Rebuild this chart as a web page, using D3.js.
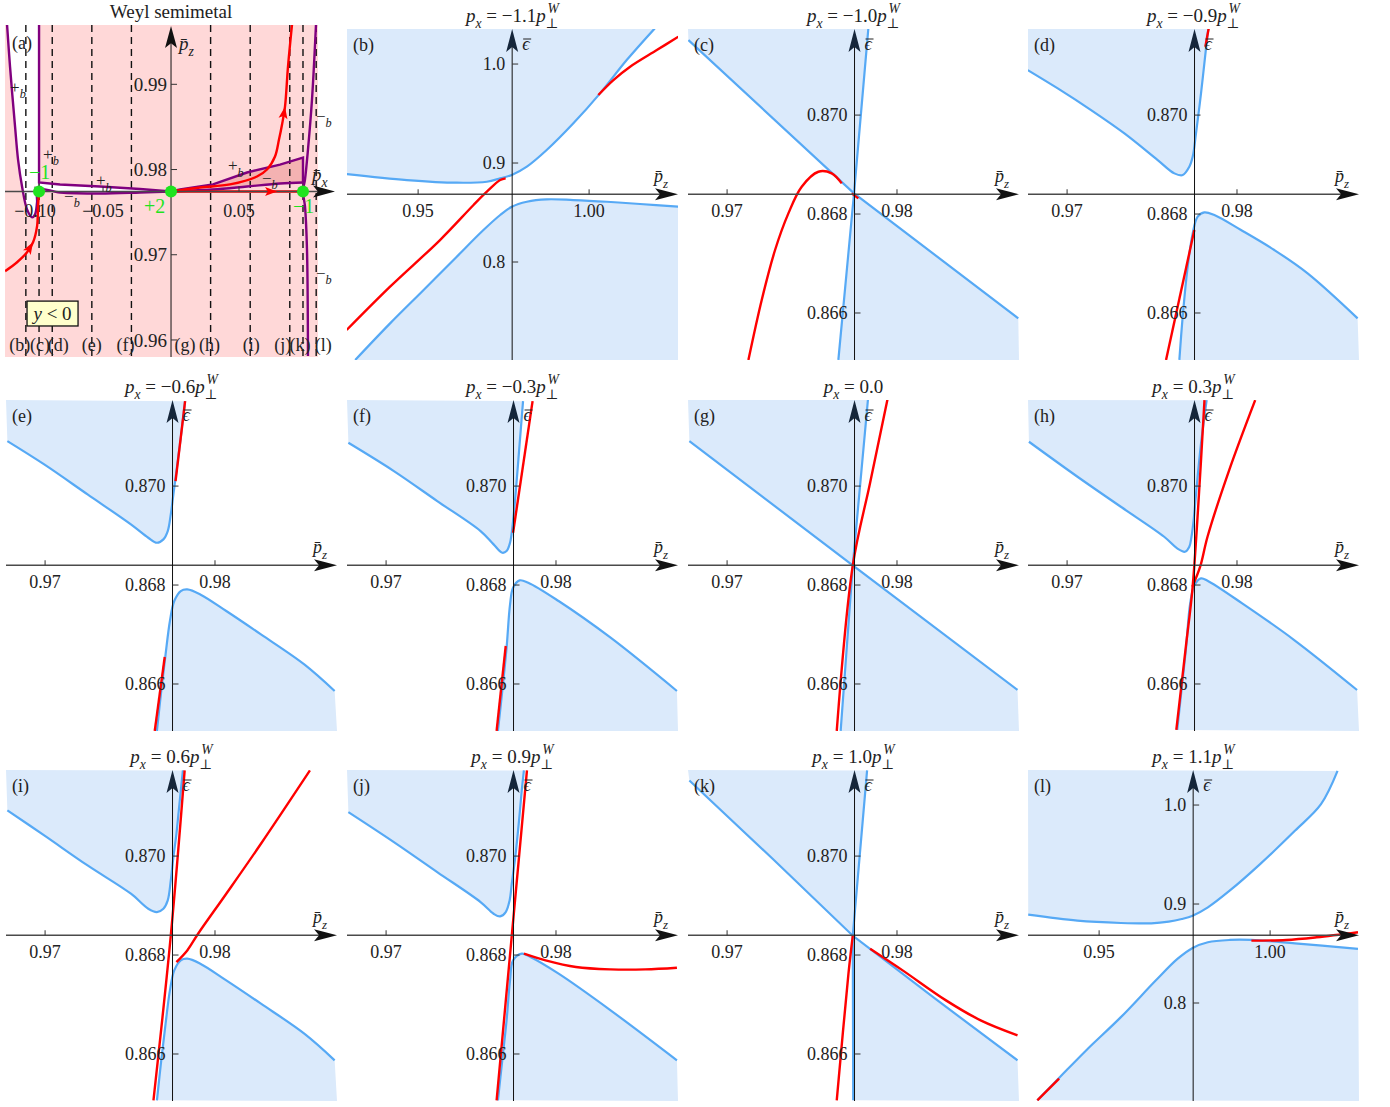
<!DOCTYPE html>
<html>
<head>
<meta charset="utf-8">
<script src="https://cdnjs.cloudflare.com/ajax/libs/d3/7.8.5/d3.min.js"></script>
<style>
  body { margin: 0; background: #fff; }
  text { font-family: "Liberation Serif", "DejaVu Serif", serif; fill: #222; }
</style>
</head>
<body>
<script>
// ---------- data ----------
const pxFactors = [-1.1, -1.0, -0.9, -0.6, -0.3, 0.0, 0.3, 0.6, 0.9, 1.0, 1.1];
const panelIds = ["b", "c", "d", "e", "f", "g", "h", "i", "j", "k", "l"];
const pW = 0.09706;            // p_perp^W measured on the p_x axis of (a)
const pz0 = 0.9775, e0 = 0.8684; // where the axes cross in (b)-(l)

// (b)-(l): [p_z, eps] points of the gap edges and of the red surface branch
const upperB = [[0.9291,0.8889],[0.9467,0.8828],[0.9613,0.8801],[0.9701,0.8811],[0.9740,0.8845],[0.9774,0.8879],[0.9818,0.8963],[0.9876,0.9131],[0.9954,0.9401],[1.0032,0.9704],[1.0110,1.0040],[1.0192,1.0360]];
const lowerB = [[0.9316,0.7010],[0.9418,0.7380],[0.9516,0.7717],[0.9613,0.8054],[0.9691,0.8323],[0.9740,0.8475],[0.9774,0.8559],[0.9818,0.8609],[0.9876,0.8633],[0.9954,0.8626],[1.0052,0.8609],[1.0149,0.8586],[1.0261,0.8559]];
const redB = [[[0.9291,0.7313],[0.9418,0.7751],[0.9564,0.8222],[0.9662,0.8576],[0.9701,0.8710],[0.9740,0.8828],[0.9756,0.8845]],
              [[1.0027,0.9687],[1.0071,0.9838],[1.0120,0.9973],[1.0198,1.0141],[1.0261,1.0276]]];

const upperC = [[0.967725,0.871515],[0.977471,0.868418],[0.978314,0.871751]];
const lowerC = [[0.976549,0.865051],[0.977471,0.868418],[0.987137,0.865892]];
const redC = [[[0.971255,0.865050],[0.972039,0.866263],[0.972824,0.867273],[0.973608,0.868013],[0.974392,0.868552],[0.975373,0.868855],[0.976157,0.868822],[0.976745,0.868620]],
              [[0.977333,0.868418],[0.977725,0.868316]]];

const upperD = [[0.967686,0.870909],[0.969451,0.870539],[0.971412,0.870101],[0.973373,0.869630],[0.975333,0.869091],[0.976314,0.868822],[0.976804,0.868788],[0.977196,0.868956],[0.977392,0.869158],[0.977588,0.869630],[0.977882,0.870438],[0.978176,0.871347],[0.978314,0.871751]];
const lowerD = [[0.976608,0.865051],[0.976804,0.865926],[0.977098,0.866936],[0.977392,0.867609],[0.977686,0.867946],[0.978078,0.868034],[0.978667,0.867980],[0.980235,0.867677],[0.982196,0.867273],[0.984157,0.866801],[0.987098,0.865892]];
const redD = [[[0.978137,0.871380],[0.978333,0.871751]],
              [[0.975824,0.865051],[0.977490,0.867677]]];

const upperE = [[0.967781,0.870909],[0.969949,0.870438],[0.972500,0.869832],[0.975051,0.869226],[0.976071,0.868956],[0.976582,0.868855],[0.976964,0.868923],[0.977219,0.869091],[0.977398,0.869428],[0.977551,0.869832],[0.977730,0.870303],[0.977985,0.870976],[0.978240,0.871717]];
const lowerE = [[0.976582,0.865051],[0.976837,0.865859],[0.977092,0.866599],[0.977347,0.867273],[0.977602,0.867677],[0.977985,0.867879],[0.978367,0.867912],[0.979133,0.867811],[0.980663,0.867475],[0.982704,0.867003],[0.985255,0.866397],[0.987041,0.865859]];
const redE = [[[0.977679,0.870101],[0.978240,0.871717]],
              [[0.976454,0.865051],[0.977041,0.866545]]];

const upperF = [[0.967781,0.870875],[0.970459,0.870303],[0.973010,0.869697],[0.975561,0.869091],[0.976327,0.868822],[0.976837,0.868653],[0.977092,0.868687],[0.977296,0.868855],[0.977474,0.869293],[0.977653,0.869966],[0.977857,0.870842],[0.978061,0.871717]];
const lowerF = [[0.976582,0.865051],[0.976837,0.865859],[0.977092,0.866734],[0.977296,0.867609],[0.977474,0.867946],[0.977857,0.868094],[0.978367,0.868047],[0.980153,0.867677],[0.983214,0.866936],[0.987117,0.865859]];
const redF = [[[0.977474,0.869057],[0.978622,0.871717]],
              [[0.976505,0.865051],[0.977041,0.866768]]];

const upperG = [[0.967781,0.870909],[0.977398,0.868397],[0.978291,0.871751]];
const lowerG = [[0.976684,0.865051],[0.977398,0.868397],[0.987092,0.865879]];
const redG = [[[0.976454,0.865051],[0.977398,0.868397],[0.978418,0.870067],[0.979439,0.871751]]];

const upperH = [[0.967755,0.870896],[0.970612,0.870189],[0.973163,0.869582],[0.975714,0.868976],[0.976480,0.868741],[0.976939,0.868673],[0.977194,0.868774],[0.977321,0.868976],[0.977449,0.869313],[0.977628,0.869987],[0.977883,0.870862],[0.978214,0.871737]];
const lowerH = [[0.976480,0.865071],[0.976735,0.865879],[0.976990,0.866687],[0.977245,0.867630],[0.977500,0.868000],[0.977883,0.868135],[0.978265,0.868088],[0.980306,0.867630],[0.983367,0.866889],[0.987066,0.865879]];
const redH = [[[0.976429,0.865071],[0.976990,0.866754],[0.977372,0.867899],[0.977704,0.869515],[0.978087,0.871737]],
              [[0.977372,0.867966],[0.977832,0.868370],[0.978265,0.868976],[0.979541,0.870323],[0.981071,0.871737]]];

const upperI = [[0.967781,0.870923],[0.969949,0.870418],[0.972500,0.869811],[0.975051,0.869239],[0.976071,0.868936],[0.976582,0.868869],[0.976964,0.868936],[0.977219,0.869104],[0.977398,0.869508],[0.977551,0.869980],[0.977730,0.870451],[0.977908,0.871057],[0.978112,0.871731]];
const lowerI = [[0.976582,0.865064],[0.976837,0.865872],[0.977092,0.866613],[0.977347,0.867286],[0.977602,0.867690],[0.977985,0.867892],[0.978367,0.867926],[0.979133,0.867825],[0.980663,0.867488],[0.982704,0.867017],[0.985255,0.866411],[0.987041,0.865872]];
const redI = [[[0.976378,0.865064],[0.977398,0.868391],[0.978214,0.871731]],
              [[0.977730,0.867859],[0.978367,0.868094],[0.979005,0.868431],[0.980663,0.869239],[0.982704,0.870249],[0.985587,0.871731]]];

const upperJ = [[0.967781,0.870889],[0.970459,0.870283],[0.973010,0.869677],[0.975561,0.869071],[0.976327,0.868835],[0.976709,0.868781],[0.977041,0.868869],[0.977270,0.869104],[0.977398,0.869441],[0.977602,0.869980],[0.977806,0.870653],[0.977985,0.871327],[0.978112,0.871731]];
const lowerJ = [[0.976582,0.865064],[0.976837,0.865872],[0.977092,0.866680],[0.977296,0.867488],[0.977474,0.867892],[0.977985,0.868027],[0.978495,0.867960],[0.980153,0.867623],[0.983214,0.866882],[0.987117,0.865872]];
const redJ = [[[0.976505,0.865064],[0.977398,0.868391],[0.978291,0.871731]],
              [[0.978112,0.868027],[0.979388,0.867892],[0.981173,0.867758],[0.983214,0.867710],[0.985255,0.867710],[0.987117,0.867744]]];

const upperK = [[0.967781,0.871529],[0.972679,0.869946],[0.977398,0.868391],[0.978240,0.871731]];
const lowerK = [[0.977423,0.865064],[0.977398,0.868391],[0.982245,0.867118],[0.987092,0.865872]];
const redK = [[[0.976454,0.865064],[0.977143,0.867623],[0.977398,0.868391]],
              [[0.978418,0.868128],[0.980332,0.867690],[0.982883,0.867084],[0.984923,0.866680],[0.987092,0.866377]]];

const upperL = [[0.929262,0.889244],[0.943639,0.883193],[0.956361,0.880840],[0.965267,0.880504],[0.970356,0.882185],[0.974173,0.884874],[0.977354,0.888235],[0.981807,0.896639],[0.988168,0.913445],[0.997074,0.940336],[1.007252,0.973950],[1.014885,1.000840],[1.019720,1.034454]];
const lowerL = [[0.931934,0.701681],[0.938550,0.725210],[0.946183,0.752101],[0.956361,0.785714],[0.966539,0.822689],[0.972901,0.844538],[0.977354,0.855630],[0.981807,0.861345],[0.988168,0.863697],[0.994529,0.863697],[1.007252,0.860336],[1.025700,0.854622]];
const redL = [[[0.931934,0.701681],[0.938295,0.723529]],
              [[0.994529,0.863025],[1.004707,0.863697],[1.013613,0.866387],[1.025700,0.871429]]];

const upperAll = [upperB, upperC, upperD, upperE, upperF, upperG, upperH, upperI, upperJ, upperK, upperL];
const lowerAll = [lowerB, lowerC, lowerD, lowerE, lowerF, lowerG, lowerH, lowerI, lowerJ, lowerK, lowerL];
const redAll   = [redB, redC, redD, redE, redF, redG, redH, redI, redJ, redK, redL];
const sharpIds = ["c", "g", "k"];
const wideIds  = ["b", "l"];

const narrowX = [0.9677, 0.98718], narrowY = [0.86505, 0.87174];
const wideX = [0.9292, 1.026], wideY = [0.7010, 1.0354];
const narrowXTicks = [0.97, 0.98], narrowYTicks = [0.866, 0.868, 0.870];
const wideXTicks = [0.95, 1.00], wideYTicks = [0.8, 0.9, 1.0];

// (a): [p_x, p_z] points
const aXDomain = [-0.1221, 0.1081], aYDomain = [0.958, 0.99696];
const aXTicks = [-0.1, -0.05, 0.05], aYTicks = [0.96, 0.97, 0.98, 0.99];
const aLower = [[-0.12058,0.99696],[-0.11839,0.99205],[-0.11470,0.98503],[-0.11250,0.98117],[-0.10956,0.97801],[-0.10589,0.97532],[-0.10220,0.97439],[-0.09999,0.97474],[-0.09853,0.97614],[-0.09780,0.97766],[-0.08162,0.97731],[-0.05220,0.97719],[-0.02280,0.97731],[0,0.97743],[0.03089,0.97766],[0.05588,0.97801],[0.08014,0.97836],[0.09706,0.97848]];
const aUpper = [[-0.09706,0.99696],[-0.09706,0.97848],[-0.08162,0.97825],[-0.05220,0.97801],[-0.02280,0.97772],[0,0.97743],[0.00662,0.97766],[0.03089,0.97825],[0.05588,0.97965],[0.08014,0.98058],[0.09706,0.98140],[0.09706,0.97848]];
const aRight = [[0.10661,0.99696],[0.10368,0.98819],[0.10073,0.98234],[0.09853,0.97883],[0.09706,0.97743],[0.09853,0.97567],[0.09999,0.97064],[0.10073,0.95813]];
const aRedIn = [[-0.12206,0.96807],[-0.11324,0.96912],[-0.10589,0.97029],[-0.10147,0.97146],[-0.09853,0.97333],[-0.09780,0.97567],[-0.09706,0.97731]];
const aRedUp = [[0,0.97743],[0.02132,0.97789],[0.04339,0.97825],[0.06324,0.97918],[0.07059,0.98000],[0.07647,0.98152],[0.07941,0.98351],[0.08162,0.98526],[0.08383,0.98737],[0.08602,0.99205],[0.08897,0.99696]];
const aRedFlat = [[0,0.97743],[0.09706,0.97743]];
const aArrows = [[aRedIn[2], aRedIn[3]], [aRedUp[7], aRedUp[8]], [[0.0643,0.97743],[0.0780,0.97743]]];
const weylPts = [[-0.09706,0.97743],[0,0.97743],[0.09706,0.97743]];
const chargeLabels = [["−1",-0.10441,0.97883],["+2",-0.01985,0.97485],["−1",0.08971,0.97485]];
const signLabels = [["+",-0.11839,0.98901],["+",-0.09411,0.98117],["+",-0.05515,0.97801],["−",-0.07868,0.97620],
                    ["+",0.04191,0.97977],["−",0.06691,0.97836],["−",0.10661,0.98561],["−",0.10661,0.96713]];
const cutLabelShift = [-6, 1, 6, 0, -6, 14, -1, 1, -7, -3, 7];
const boxCorners = [[-0.10589,0.96456],[-0.06838,0.96164]];

// ---------- layout ----------
const cols = [6, 347, 688, 1028], rows = [29, 400, 770], PW = 331, PH = 331;
const C = { fill: "#dbeafb", blue: "#56a9f5", red: "#ff0000", purple: "#80007f", pink: "#ffd8d8",
            pinkDark: "#f4b2b2", green: "#1fe31f", axisY: "#15263a" };

const svg = d3.select("body").append("svg").attr("width", 1390).attr("height", 1107);

function mathText(parent, x, y, parts, size, anchor) {
  const t = parent.append("text").attr("x", x).attr("y", y)
    .attr("font-size", size).attr("text-anchor", anchor || "start");
  let cur = 0;
  parts.forEach(p => {
    const shift = p.sub ? 0.3 * size : p.sup ? -0.45 * size : 0;
    const ts = t.append("tspan").attr("dy", shift - cur).text(p.t);
    cur = shift;
    if (p.sub || p.sup) ts.attr("font-size", size * 0.72);
    if (p.i) ts.attr("font-style", "italic");
    if (p.dx) ts.attr("dx", p.dx);
  });
  return t;
}

function arrowHead(parent, x, y, angle, len, half, color) {
  parent.append("path")
    .attr("d", `M0,0L${-len},${-half}L${-len * 0.78},0L${-len},${half}Z`)
    .attr("transform", `translate(${x},${y}) rotate(${angle})`)
    .attr("fill", color);
}

function epsBar(parent, x, y, size) {
  parent.append("text").attr("x", x).attr("y", y).attr("font-size", size)
    .attr("font-style", "italic").text("\u03f5");
  parent.append("line").attr("x1", x + 1).attr("x2", x + 9).attr("y1", y - 11).attr("y2", y - 11)
    .attr("stroke", "#222").attr("stroke-width", 1);
}

const pzLabel = [{ t: "p\u0304", i: true }, { t: "z", i: true, sub: true }];

// ---------- panels (b)-(l) ----------
panelIds.forEach((id, k) => {
  const col = (k + 1) % 4, row = Math.floor((k + 1) / 4);
  const wide = wideIds.includes(id);
  const g = svg.append("g").attr("transform", `translate(${cols[col]},${rows[row]})`);
  const x = d3.scaleLinear().domain(wide ? wideX : narrowX).range([0, PW]);
  const y = d3.scaleLinear().domain(wide ? wideY : narrowY).range([PH, 0]);

  g.append("clipPath").attr("id", "clip-" + id).append("rect").attr("width", PW).attr("height", PH);
  const plot = g.append("g").attr("clip-path", `url(#clip-${id})`);
  const edge = d3.line().x(d => x(d[0])).y(d => y(d[1]))
    .curve(sharpIds.includes(id) ? d3.curveLinear : d3.curveCatmullRom.alpha(0.5));
  const smooth = d3.line().x(d => x(d[0])).y(d => y(d[1])).curve(d3.curveCatmullRom.alpha(0.5));

  const xd = x.domain(), yd = y.domain();
  plot.append("path").attr("d", edge(upperAll[k]) + `L${x(xd[0])},${y(yd[1])}Z`).attr("fill", C.fill);
  plot.append("path").attr("d", edge(lowerAll[k]) + `L${x(xd[1])},${y(yd[0])}Z`).attr("fill", C.fill);

  // axes
  const ax = x(pz0), ay = y(e0);
  g.append("line").attr("x1", 0).attr("x2", PW - 12).attr("y1", ay).attr("y2", ay)
    .attr("stroke", "#4a4a4a").attr("stroke-width", 1.6);
  arrowHead(g, PW, ay, 0, 23, 6, "#111");
  g.append("line").attr("x1", ax).attr("x2", ax).attr("y1", PH).attr("y2", 12)
    .attr("stroke", "#111").attr("stroke-width", 1);
  arrowHead(g, ax, 0, -90, 23, 6, C.axisY);

  const fx = d3.format(".2f"), fy = d3.format(wide ? ".1f" : ".3f");
  (wide ? wideXTicks : narrowXTicks).forEach(t => {
    g.append("line").attr("x1", x(t)).attr("x2", x(t)).attr("y1", ay).attr("y2", ay - 5)
      .attr("stroke", "#333").attr("stroke-width", 1);
    g.append("text").attr("x", x(t)).attr("y", ay + 23).attr("text-anchor", "middle")
      .attr("font-size", 18).text(fx(t));
  });
  (wide ? wideYTicks : narrowYTicks).forEach(t => {
    g.append("line").attr("x1", ax).attr("x2", ax + 6).attr("y1", y(t)).attr("y2", y(t))
      .attr("stroke", "#333").attr("stroke-width", 1);
    g.append("text").attr("x", ax - 7).attr("y", y(t)).attr("dy", "0.35em").attr("text-anchor", "end")
      .attr("font-size", 18).text(fy(t));
  });

  // curves
  [upperAll[k], lowerAll[k]].forEach(c => {
    plot.append("path").attr("d", edge(c)).attr("fill", "none")
      .attr("stroke", C.blue).attr("stroke-width", 2.2);
  });
  redAll[k].forEach(c => {
    plot.append("path").attr("d", smooth(c)).attr("fill", "none")
      .attr("stroke", C.red).attr("stroke-width", 2.4);
  });

  // labels
  mathText(g, PW - 24, ay - 12, pzLabel, 18);
  epsBar(g, ax + 10, 21, 18);
  g.append("text").attr("x", 6).attr("y", 22).attr("font-size", 18).text(`(${id})`);
  const v = pxFactors[k];
  const title = v === 0
    ? [{ t: "p", i: true }, { t: "x", i: true, sub: true }, { t: " = 0.0" }]
    : [{ t: "p", i: true }, { t: "x", i: true, sub: true }, { t: " = " + d3.format(".1f")(v) },
       { t: "p", i: true }, { t: "⊥", sub: true }, { t: "W", i: true, sup: true, dx: -11 }];
  mathText(g, PW / 2, -7, title, 19, "middle");
});

// ---------- panel (a) ----------
(function drawWeyl() {
  const g = svg.append("g");
  const x = d3.scaleLinear().domain(aXDomain).range([5, 318]);
  const y = d3.scaleLinear().domain(aYDomain).range([357, 25]);
  const [x0, x1] = x.range(), [y0, y1] = y.range();

  g.append("clipPath").attr("id", "clip-a").append("rect")
    .attr("x", x0).attr("y", y1).attr("width", x1 - x0).attr("height", y0 - y1);
  const plot = g.append("g").attr("clip-path", "url(#clip-a)");
  const smooth = d3.line().x(d => x(d[0])).y(d => y(d[1])).curve(d3.curveCatmullRom.alpha(0.5));
  const straight = d3.line().x(d => x(d[0])).y(d => y(d[1]));

  plot.append("rect").attr("x", x0).attr("y", y1).attr("width", x1 - x0).attr("height", y0 - y1)
    .attr("fill", C.pink);

  const iO = aLower.findIndex(d => d[0] === 0), jO = aUpper.findIndex(d => d[0] === 0);
  const gap = smooth(aLower.slice(0, iO + 1)) +
    aUpper.slice(0, jO + 1).reverse().map(d => `L${x(d[0])},${y(d[1])}`).join("") + "Z";
  plot.append("path").attr("d", gap).attr("fill", "#fff");
  plot.append("path").attr("d", straight(aUpper.slice(jO).concat(aLower.slice(iO).reverse())) + "Z")
    .attr("fill", C.pinkDark);

  pxFactors.forEach(f => {
    if (f === 0) return;
    plot.append("line").attr("x1", x(f * pW)).attr("x2", x(f * pW)).attr("y1", y1).attr("y2", y0)
      .attr("stroke", "#111").attr("stroke-width", 1.4).attr("stroke-dasharray", "7,5");
  });

  // axes
  const ax = x(0), ay = y(weylPts[1][1]);
  g.append("line").attr("x1", x0).attr("x2", 322).attr("y1", ay).attr("y2", ay)
    .attr("stroke", "#4a4a4a").attr("stroke-width", 1.6);
  arrowHead(g, 335, ay, 0, 22, 6, "#111");
  g.append("line").attr("x1", ax).attr("x2", ax).attr("y1", y0).attr("y2", 38)
    .attr("stroke", "#111").attr("stroke-width", 1);
  arrowHead(g, ax, 26, -90, 22, 6, "#111");

  const fx = d3.format(".2f");
  aXTicks.forEach(t => {
    g.append("line").attr("x1", x(t)).attr("x2", x(t)).attr("y1", ay).attr("y2", ay - 5)
      .attr("stroke", "#333");
    g.append("text").attr("x", x(t)).attr("y", ay + 26)
      .attr("text-anchor", "middle").attr("font-size", 18).text(fx(t));
  });
  aYTicks.forEach(t => {
    g.append("line").attr("x1", ax).attr("x2", ax + 6).attr("y1", y(t)).attr("y2", y(t)).attr("stroke", "#333");
    g.append("text").attr("x", ax - 4).attr("y", y(t)).attr("dy", "0.35em").attr("text-anchor", "end")
      .attr("font-size", 19).text(fx(t));
  });

  // curves
  [aLower, aRight].forEach(c => plot.append("path").attr("d", smooth(c)).attr("fill", "none")
    .attr("stroke", C.purple).attr("stroke-width", 2.4));
  plot.append("path").attr("d", straight(aUpper)).attr("fill", "none")
    .attr("stroke", C.purple).attr("stroke-width", 2.4);
  [aRedIn, aRedUp, aRedFlat].forEach(c => plot.append("path").attr("d", smooth(c)).attr("fill", "none")
    .attr("stroke", C.red).attr("stroke-width", 2.4));
  aArrows.forEach(([p, q]) => {
    const ang = Math.atan2(y(q[1]) - y(p[1]), x(q[0]) - x(p[0])) * 180 / Math.PI;
    arrowHead(g, x(q[0]), y(q[1]), ang, 12, 4.5, C.red);
  });

  g.selectAll("circle.weyl").data(weylPts).join("circle").attr("class", "weyl")
    .attr("cx", d => x(d[0])).attr("cy", d => y(d[1])).attr("r", 6).attr("fill", C.green);
  chargeLabels.forEach(([s, px, pz]) => {
    g.append("text").attr("x", x(px)).attr("y", y(pz)).attr("font-size", 20).style("fill", C.green).text(s);
  });
  signLabels.forEach(([s, px, pz]) => {
    mathText(g, x(px), y(pz), [{ t: s }, { t: "b", i: true, sub: true }], 17);
  });

  // cut labels
  pxFactors.forEach((f, k) => {
    g.append("text").attr("x", x(f * pW) + cutLabelShift[k]).attr("y", 351)
      .attr("text-anchor", "middle").attr("font-size", 18).text(`(${panelIds[k]})`);
  });

  // y<0 box
  const [b0, b1] = boxCorners;
  g.append("rect").attr("x", x(b0[0])).attr("y", y(b0[1]))
    .attr("width", x(b1[0]) - x(b0[0])).attr("height", y(b1[1]) - y(b0[1]))
    .attr("fill", "#ffffcc").attr("stroke", "#111").attr("stroke-width", 1.3);
  mathText(g, (x(b0[0]) + x(b1[0])) / 2, (y(b0[1]) + y(b1[1])) / 2 + 6,
    [{ t: "y", i: true }, { t: " < 0" }], 19, "middle");

  mathText(g, ax + 8, 50, pzLabel, 19);
  mathText(g, 312, 181, [{ t: "p\u0304", i: true }, { t: "x", i: true, sub: true }], 19);
  g.append("text").attr("x", 12).attr("y", 49).attr("font-size", 18).text("(a)");
  g.append("text").attr("x", ax).attr("y", 18).attr("text-anchor", "middle").attr("font-size", 19)
    .text("Weyl semimetal");
})();
</script>
</body>
</html>
